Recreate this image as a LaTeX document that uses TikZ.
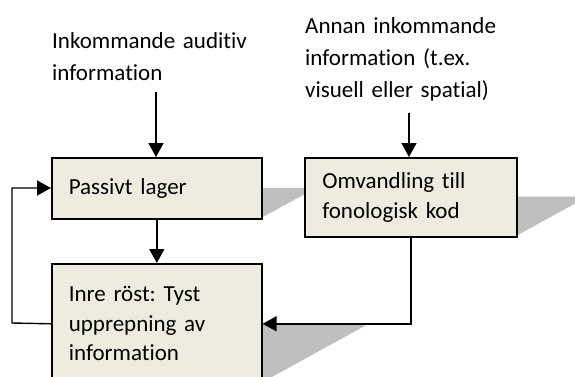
\documentclass[tikz,border=0pt]{standalone}
\usepackage{fontspec}
\setmainfont{Carlito}[Ligatures=NoCommon, WordSpace=0.65]
\usetikzlibrary{arrows.meta}
\definecolor{boxfill}{HTML}{EEECE1}
\definecolor{shadowgray}{HTML}{BFBFBF}
\begin{document}
\frenchspacing
\begin{tikzpicture}[x=1pt,y=-1pt,
  txt/.style={font=\fontsize{23}{32}\selectfont, inner sep=0pt, align=left, anchor=base west, text width=#1},
  box/.style={draw=black, line width=1.6pt, fill=boxfill, align=left, inner xsep=17pt, inner ysep=0pt,
    font=\fontsize{23}{29.5}\selectfont, anchor=north west},
  shade/.style={fill=shadowgray, draw=none},
  arr/.style={line width=1.4pt, -{Triangle[length=14pt,width=15pt]}}]
\useasboundingbox (0,0) rectangle (575,376);
% shadows
\fill[shade] (51,218) -- (261,218) -- (316,188) -- (106,188) -- cycle;
\fill[shade] (304,236) -- (516,236) -- (588,196.5) -- (376,196.5) -- cycle;
\fill[shade] (51,383) -- (261,383) -- (370,323) -- (160,323) -- cycle;
% boxes
\node[box, minimum width=210pt, minimum height=61pt, text width=176pt] (p) at (51,157) {Passivt lager};
\node[box, minimum width=212pt, minimum height=79pt, text width=177pt] (o) at (304,157) {Omvandling till\\fonologisk kod};
\node[box, minimum width=210pt, minimum height=120pt, text width=176pt] (r) at (51,263) {Inre röst: Tyst\\upprepning av\\information};
% texts
\node[txt=240pt] (t1) at (52,48) {Inkommande auditiv\\information};
\node[txt=260pt] (t2) at (305,33) {Annan inkommande\\information (t.ex.\\visuell eller spatial)};
% coordinates
\coordinate (a1) at (156,92);
\coordinate (a2) at (409,113);
\coordinate (fbx) at (12,323);
\coordinate (fby) at (12,188);
% arrows
\draw[arr] (a1) -- (p.north -| a1);
\draw[arr] (a2) -- (o.north -| a2);
\draw[arr] (p.south) -- (r.north);
\draw[arr] (o.south) |- (r.east);
\draw[arr] (r.west) -- (fbx) -- (fby) -- (fby -| p.west);
\end{tikzpicture}
\end{document}
